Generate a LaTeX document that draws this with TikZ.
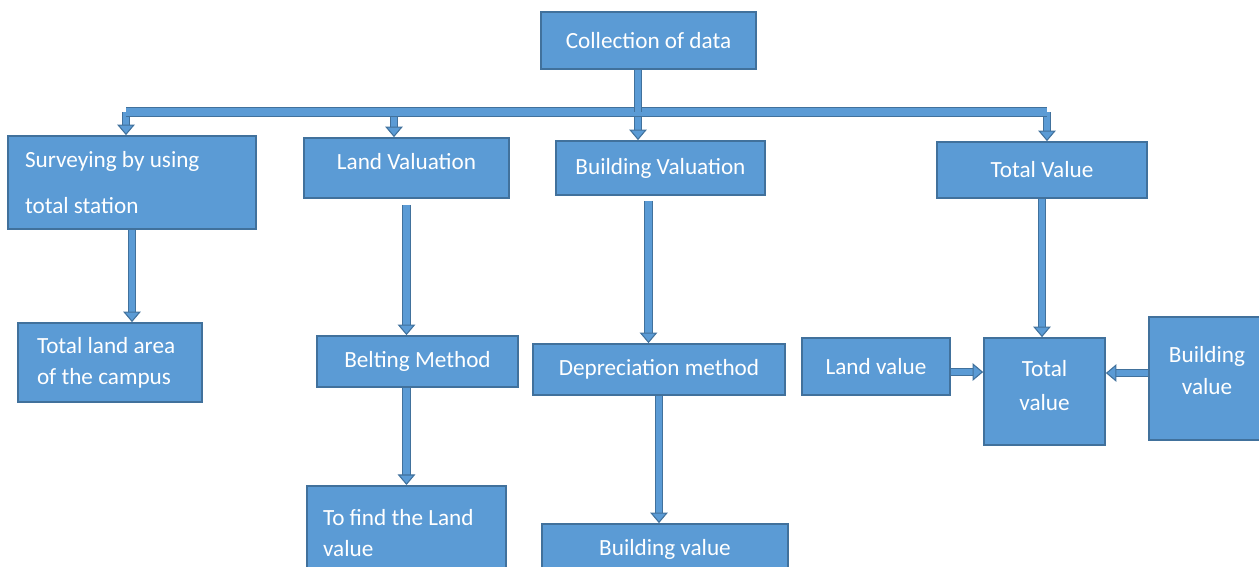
\documentclass[tikz,border=0pt]{standalone}
\usepackage{fontspec}
\setmainfont{Carlito}
\usetikzlibrary{arrows.meta,calc}
\definecolor{boxblue}{HTML}{5B9BD5}
\definecolor{edgeblue}{HTML}{41719C}
\tikzset{
  box/.style={draw=edgeblue, fill=boxblue, line width=1pt, text=white,
    font=\fontsize{13.2}{17.5}\selectfont, inner sep=0pt, align=center},
  lbox/.style={box, align=flush left},
  busline/.style={draw=edgeblue, line width=0.6pt, double=boxblue, double distance=4pt},
  blk/.style={busline, double distance=3.6pt, -{Triangle[width=10pt,length=6pt,fill=boxblue]}}
}
\begin{document}
\begin{tikzpicture}[x=0.02cm, y=-0.02cm]
\useasboundingbox (0,0) rectangle (1259,566);

\node[box, minimum width=4.30cm, minimum height=1.14cm] (coll) at (648.5,40.5) {Collection of data};

\node[lbox, text width=4.28cm, inner xsep=0.34cm, minimum height=1.86cm] (survey) at (132,182.5) {Surveying by using\\[9pt]total station};
\node[box, minimum width=4.10cm, minimum height=1.20cm] (landv) at (406.5,168) {Land Valuation\\[-10.5pt]};
\node[box, minimum width=4.18cm, minimum height=1.08cm] (buildv) at (660.5,168) {Building Valuation};
\node[box, minimum width=4.20cm, minimum height=1.12cm] (totalv) at (1042,170) {Total Value};

\node[lbox, text width=2.92cm, inner xsep=0.38cm, minimum height=1.58cm] (area) at (110,362.5) {Total land area\\of the campus};
\node[box, minimum width=4.02cm, minimum height=1.02cm] (belt) at (417.5,361.5) {Belting Method};
\node[box, minimum width=5.04cm, minimum height=1.02cm] (dep) at (659,369.5) {Depreciation method};
\node[box, minimum width=2.96cm, minimum height=1.14cm] (landval) at (876,366.5) {Land value};
\node[box, minimum width=2.42cm, minimum height=2.14cm] (tot) at (1044.5,391.5) {Total\\[2pt]value\\[-10.5pt]};
\node[box, minimum width=2.32cm, minimum height=2.46cm] (bright) at (1207,378.5) {Building\\[1pt]value\\[-8.5pt]};

\node[lbox, text width=3.34cm, inner xsep=0.32cm, minimum height=1.90cm, anchor=north] (find) at (406.5,485) {To find the Land\\value};
\node[box, minimum width=4.92cm, minimum height=1.00cm] (bval) at (665,549) {Building value};

\coordinate (busA) at (126,112);
\coordinate (busB) at (394,112);
\coordinate (busC) at (638,112);
\coordinate (busD) at (1047,112);

\draw[blk] (busA) -- (busA |- survey.north);
\draw[blk] (busB) -- (busB |- landv.north);
\draw[blk] (busC) -- (busC |- buildv.north);
\draw[blk] (busD) -- (busD |- totalv.north);
\draw[busline] (busA) -- (busD);
\draw[busline, double distance=3.6pt] (coll.south -| busC) -- (busC);

\draw[blk] (survey.south) -- (survey.south |- area.north);
\draw[blk, shorten <=0.12cm] (landv.south) -- (landv.south |- belt.north);
\draw[blk] (find.north |- belt.south) -- (find.north);
\draw[blk, shorten <=0.10cm] ([xshift=-0.24cm]buildv.south) -- ([xshift=-0.24cm]buildv.south |- dep.north);
\draw[blk] (dep.south) -- (dep.south |- bval.north);
\draw[blk] (totalv.south) -- (totalv.south |- tot.north);
\draw[blk] ([yshift=-0.11cm]landval.east) -- ([yshift=-0.11cm]landval.east -| tot.west);
\draw[blk] ([yshift=0.11cm]bright.west) -- ([yshift=0.11cm]bright.west -| tot.east);
\end{tikzpicture}
\end{document}
